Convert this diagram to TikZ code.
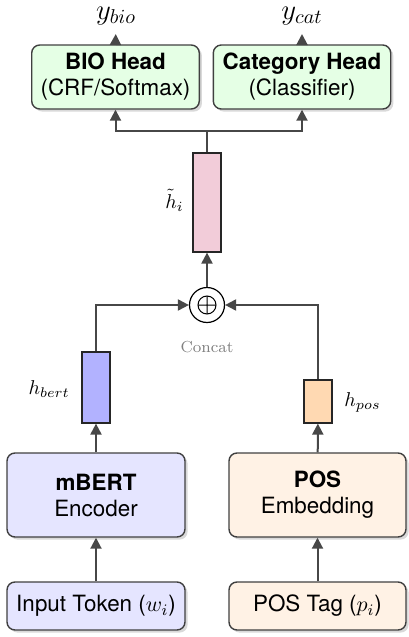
\documentclass[tikz,border=0pt]{standalone}
\usepackage{fontspec}
\setsansfont{TeX Gyre Heros}
\usetikzlibrary{arrows.meta,shadows}

\begin{document}
\begin{tikzpicture}[
  x=0.5pt, y=-0.5pt,
  box/.style={draw=black!75, line width=0.7pt, rounded corners=4pt,
    align=center, inner sep=0pt,
    font=\sffamily\fontsize{11.2}{13}\selectfont,
    drop shadow={shadow xshift=1.3pt, shadow yshift=-1.3pt, opacity=0.3}},
  vec/.style={draw=black!85, line width=0.6pt, minimum width=14pt, inner sep=0pt},
  conn/.style={draw=black!72, line width=1pt, -{Triangle[length=5.5pt,width=5.5pt]}},
  link/.style={draw=black!72, line width=1pt},
  mlabel/.style={inner sep=0pt}
]
\useasboundingbox (0,0) rectangle (408,637);

% output heads
\node[box, fill=green!10, minimum width=83.8pt, minimum height=32pt] (bio) at (115.5,77)
  {\textbf{BIO Head}\\(CRF/Softmax)};
\node[box, fill=green!10, minimum width=88.7pt, minimum height=32pt] (cathead) at (302,77)
  {\textbf{Category Head}\\(Classifier)};
\node[mlabel, anchor=base, font=\Large] (ybio) at (116,19) {$y_{bio}$};
\node[mlabel, anchor=base, font=\Large] (ycat) at (302,19) {$y_{cat}$};
\draw[conn, shorten >=4.5pt] (bio.north) -- (ybio.south);
\draw[conn, shorten >=4.5pt] (cathead.north) -- (ycat.south);

% fused representation
\node[vec, fill=purple!20, minimum height=49.5pt] (hvec) at (207,202.5) {};
\node[mlabel, anchor=base west] (hlab) at (165,208) {$\tilde{h}_i$};
\coordinate (split) at (207,131);
\draw[link] (hvec.north) -- (split);
\draw[conn] (split) -| (bio.south);
\draw[conn] (split) -| (cathead.south);

% concatenation
\node[draw=black, circle, line width=0.6pt, minimum size=17.5pt, inner sep=0pt] (concat) at (207,305) {};
\draw[line width=0.5pt] (concat.center) circle[radius=4.5pt]
  (concat.center) ++(-9,0) -- ++(18,0)
  (concat.center) ++(0,-9) -- ++(0,18);
\node[font=\footnotesize, text=black!50] (clab) at (207,347) {Concat};
\draw[conn] (concat) -- (hvec);

% branch vectors
\node[vec, fill=blue!30, minimum height=35.5pt] (bvec) at (96,387.5) {};
\node[vec, fill=orange!30, minimum height=21.5pt] (pvec) at (318,401.5) {};
\node[mlabel, anchor=base east] (blab) at (70,394) {$h_{bert}$};
\node[mlabel, anchor=base west] (plab) at (344,406) {$h_{pos}$};
\draw[conn] (bvec.north) |- (concat.west);
\draw[conn] (pvec.north) |- (concat.east);

% encoders
\node[box, fill=blue!10, minimum width=89pt, minimum height=42pt] (mbert) at (96,495)
  {\textbf{mBERT}\\Encoder};
\node[box, fill=orange!10, minimum width=88.5pt, minimum height=42pt] (posemb) at (317.5,495)
  {\textbf{POS}\\Embedding};
\draw[conn] (mbert) -- (bvec);
\draw[conn] (posemb) -- (pvec);

% inputs
\node[box, fill=blue!10, minimum width=89pt, minimum height=24pt] (tok) at (96,606)
  {Input Token ($w_i$)};
\node[box, fill=orange!10, minimum width=88.5pt, minimum height=24pt] (tag) at (317.5,606)
  {POS Tag ($p_i$)};
\draw[conn] (tok) -- (mbert);
\draw[conn] (tag) -- (posemb);
\end{tikzpicture}
\end{document}
